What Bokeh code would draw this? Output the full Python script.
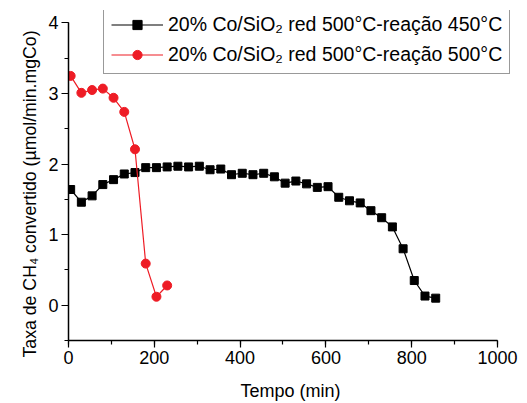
from bokeh.plotting import figure
from bokeh.models import Range1d, SingleIntervalTicker, Legend, LegendItem, Title
from bokeh.embed import file_html
from bokeh.resources import INLINE

# Data
t_450 = [5, 30, 55, 80, 105, 130, 155, 180, 205, 230, 255, 280, 305, 330, 355,
         380, 405, 430, 455, 480, 505, 530, 555, 580, 605, 630, 655, 680, 705,
         730, 755, 780, 806, 831, 856]
rate_450 = [1.64, 1.46, 1.55, 1.71, 1.78, 1.86, 1.88, 1.95, 1.95, 1.96, 1.97,
            1.96, 1.97, 1.92, 1.93, 1.85, 1.87, 1.85, 1.87, 1.82, 1.73, 1.76,
            1.72, 1.67, 1.68, 1.53, 1.48, 1.45, 1.34, 1.24, 1.11, 0.80, 0.35,
            0.13, 0.10]
t_500 = [5, 30, 55, 80, 105, 130, 155, 180, 205, 230]
rate_500 = [3.25, 3.01, 3.05, 3.07, 2.94, 2.74, 2.21, 0.59, 0.12, 0.28]

label_450 = "20% Co/SiO\u2082 red 500°C-reação 450°C"
label_500 = "20% Co/SiO\u2082 red 500°C-reação 500°C"
x_label = "Tempo (min)"
y_label = "Taxa de CH\u2084 convertido (µmol/min.mgCo)"

FONT = "Liberation Sans"
RED = "#ee1c25"

# frame is slightly larger than the axes so the legend (which overhangs the
# axes box in the reference) is not clipped; axes are bounded to the data box
p = figure(width=520, height=403, output_backend="svg", toolbar_location=None,
           x_range=Range1d(0, 1035), y_range=Range1d(-0.5, 4.177),
           min_border_left=68, min_border_right=8, min_border_top=10,
           min_border_bottom=58)
p.outline_line_color = None
p.xgrid.visible = False
p.ygrid.visible = False

p.xaxis.ticker = SingleIntervalTicker(interval=200, num_minor_ticks=2)
p.yaxis.ticker = SingleIntervalTicker(interval=1, num_minor_ticks=2)
p.xaxis.bounds = (0, 1000)
p.yaxis.bounds = (-0.5, 4)
for ax in (p.xaxis, p.yaxis):
    ax.axis_line_color = "black"
    ax.axis_line_width = 1.5
    ax.major_tick_line_color = "black"
    ax.minor_tick_line_color = "black"
    ax.major_tick_line_width = 1.2
    ax.minor_tick_line_width = 1.2
    ax.major_tick_out = 7
    ax.major_tick_in = 0
    ax.minor_tick_out = 4
    ax.minor_tick_in = 0
    ax.major_label_text_font = FONT
    ax.major_label_text_font_size = "18px"
    ax.major_label_text_color = "black"
p.xaxis.major_label_standoff = 3
p.yaxis.major_label_standoff = 3

p.xaxis.axis_label = x_label
p.xaxis.axis_label_text_font = FONT
p.xaxis.axis_label_text_font_size = "18px"
p.xaxis.axis_label_text_font_style = "normal"
p.xaxis.axis_label_text_color = "black"
p.xaxis.axis_label_standoff = 14

# y-axis title as a side title so it can be placed along the bounded axis
p.add_layout(Title(text=y_label, align="left", offset=-17,
                   text_font=FONT, text_font_size="17.7px",
                   text_font_style="normal", text_color="black",
                   standoff=12), "left")

l1 = p.line(t_450, rate_450, line_color="black", line_width=1.2)
s1 = p.scatter(t_450, rate_450, marker="square", size=8, fill_color="black",
               line_color="black")
l2 = p.line(t_500, rate_500, line_color=RED, line_width=1.2)
s2 = p.scatter(t_500, rate_500, marker="circle", size=9, fill_color=RED,
               line_color=RED)

legend = Legend(items=[LegendItem(label=label_450, renderers=[l1, s1]),
                       LegendItem(label=label_500, renderers=[l2, s2])],
                location=(35, 266))
legend.label_text_font = FONT
legend.label_text_font_size = "19.5px"
legend.label_text_color = "black"
legend.border_line_color = "#333333"
legend.border_line_width = 1.5
legend.glyph_width = 52
legend.label_standoff = 5
legend.spacing = 7
legend.padding = 7
legend.margin = 0
legend.label_height = 23
legend.glyph_height = 23
legend.background_fill_alpha = 1
p.add_layout(legend, "center")

open("out.html", "w").write(file_html(p, INLINE))
